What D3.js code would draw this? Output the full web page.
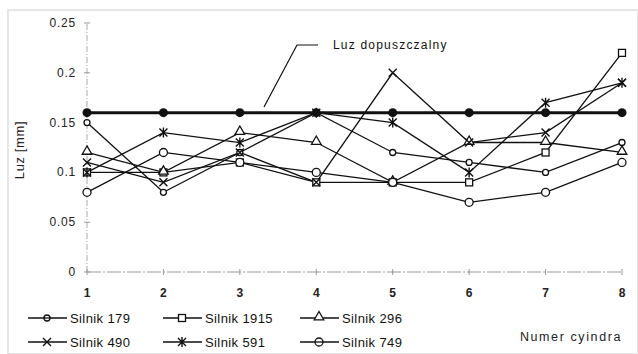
<!DOCTYPE html>
<html>
<head>
<meta charset="utf-8">
<script src="https://cdn.jsdelivr.net/npm/d3@7"></script>
<style>
  body { margin: 0; background: #fff; }
  svg { display: block; font-family: "Liberation Sans", Arial, sans-serif; }
</style>
</head>
<body>
<script>
// cylinder numbers and tick labels
var cylinders = [1, 2, 3, 4, 5, 6, 7, 8];
var yTicks = [0, 0.05, 0.1, 0.15, 0.2, 0.25];
var yTickLabels = ["0", "0.05", "0.1", "0.15", "0.2", "0.25"];

// measured clearance per engine [mm]
var silnik179  = [0.15, 0.08, 0.12, 0.16, 0.12, 0.11, 0.10, 0.13];
var silnik1915 = [0.10, 0.10, 0.11, 0.09, 0.09, 0.09, 0.12, 0.22];
var silnik296  = [0.12, 0.10, 0.14, 0.13, 0.09, 0.13, 0.13, 0.12];
var silnik490  = [0.11, 0.09, 0.12, 0.09, 0.20, 0.13, 0.14, 0.19];
var silnik591  = [0.10, 0.14, 0.13, 0.16, 0.15, 0.10, 0.17, 0.19];
var silnik749  = [0.08, 0.12, 0.11, 0.10, 0.09, 0.07, 0.08, 0.11];
var luzDopuszczalny = [0.16, 0.16, 0.16, 0.16, 0.16, 0.16, 0.16, 0.16];

var seriesNames = ["Silnik 179", "Silnik 1915", "Silnik 296", "Silnik 490", "Silnik 591", "Silnik 749"];
var seriesValues = [silnik179, silnik1915, silnik296, silnik490, silnik591, silnik749];
var seriesMarkers = ["smallcircle", "square", "triangle", "cross", "asterisk", "circle"];

var width = 638, height = 354;

var svg = d3.select("body").append("svg")
  .attr("width", width)
  .attr("height", height);

// faint scan frame
svg.append("rect")
  .attr("x", 8).attr("y", 10)
  .attr("width", width - 8).attr("height", height - 10)
  .attr("fill", "none")
  .attr("stroke", "#e6e6e6")
  .attr("stroke-width", 2);

var x = d3.scaleLinear().domain([1, 8]).range([87, 622]);
var y = d3.scaleLinear().domain([0, 0.25]).range([272, 23]);

// axes (light grey, dash-dot like the scan)
svg.append("line")
  .attr("x1", x(1)).attr("x2", x(1))
  .attr("y1", y(0)).attr("y2", y(0.25))
  .attr("stroke", "#aaa").attr("stroke-width", 1)
  .attr("stroke-dasharray", "6,2,1,2");
svg.append("line")
  .attr("x1", x(1)).attr("x2", x(8))
  .attr("y1", y(0)).attr("y2", y(0))
  .attr("stroke", "#999").attr("stroke-width", 1)
  .attr("stroke-dasharray", "14,2,2,2");

svg.selectAll(".ytick")
  .data(yTicks)
  .enter().append("line")
  .attr("x1", x(1) - 3).attr("x2", x(1) + 3)
  .attr("y1", function(d) { return y(d); })
  .attr("y2", function(d) { return y(d); })
  .attr("stroke", "#999");

svg.selectAll(".ylabel")
  .data(yTicks)
  .enter().append("text")
  .attr("x", 76)
  .attr("y", function(d) { return y(d) + 4; })
  .attr("text-anchor", "end")
  .attr("font-size", 12)
  .attr("letter-spacing", 0.8)
  .attr("fill", "#222")
  .text(function(d, i) { return yTickLabels[i]; });

svg.selectAll(".xtick")
  .data(cylinders)
  .enter().append("line")
  .attr("x1", function(d) { return x(d); })
  .attr("x2", function(d) { return x(d); })
  .attr("y1", y(0) - 3).attr("y2", y(0) + 3)
  .attr("stroke", "#999");

svg.selectAll(".xlabel")
  .data(cylinders)
  .enter().append("text")
  .attr("x", function(d) { return x(d); })
  .attr("y", 297)
  .attr("text-anchor", "middle")
  .attr("font-size", 12)
  .attr("font-weight", "bold")
  .attr("fill", "#222")
  .text(function(d) { return d; });

svg.append("text")
  .attr("transform", "translate(24," + 150 + ") rotate(-90)")
  .attr("text-anchor", "middle")
  .attr("font-size", 13)
  .attr("letter-spacing", 0.6)
  .attr("fill", "#222")
  .text("Luz [mm]");

svg.append("text")
  .attr("x", 622).attr("y", 341)
  .attr("text-anchor", "end")
  .attr("font-size", 12.5)
  .attr("letter-spacing", 1.6)
  .attr("fill", "#222")
  .text("Numer cyindra");

// marker drawing
function drawMarker(g, type, cx, cy) {
  if (type == "smallcircle") {
    g.append("circle").attr("cx", cx).attr("cy", cy).attr("r", 3)
      .attr("fill", "#fff").attr("stroke", "#111").attr("stroke-width", 1.3);
  } else if (type == "circle") {
    g.append("circle").attr("cx", cx).attr("cy", cy).attr("r", 4)
      .attr("fill", "#fff").attr("stroke", "#111").attr("stroke-width", 1.3);
  } else if (type == "square") {
    g.append("rect").attr("x", cx - 3.5).attr("y", cy - 3.5)
      .attr("width", 7).attr("height", 7)
      .attr("fill", "#fff").attr("stroke", "#111").attr("stroke-width", 1.3);
  } else if (type == "triangle") {
    g.append("path")
      .attr("d", d3.symbol().type(d3.symbolTriangle).size(40)())
      .attr("transform", "translate(" + cx + "," + (cy - 1) + ")")
      .attr("fill", "#fff").attr("stroke", "#111").attr("stroke-width", 1.3);
  } else if (type == "cross" || type == "asterisk") {
    var s = 4;
    var p = "M" + (cx - s) + "," + (cy - s) + "L" + (cx + s) + "," + (cy + s) +
            "M" + (cx - s) + "," + (cy + s) + "L" + (cx + s) + "," + (cy - s);
    if (type == "asterisk") p += "M" + cx + "," + (cy - s - 1) + "L" + cx + "," + (cy + s + 1);
    g.append("path").attr("d", p)
      .attr("fill", "none").attr("stroke", "#111").attr("stroke-width", 1.4);
  }
}

var line = d3.line()
  .x(function(d, i) { return x(cylinders[i]); })
  .y(function(d) { return y(d); });

// engine series
seriesValues.forEach(function(vals, k) {
  svg.append("path")
    .datum(vals)
    .attr("d", line)
    .attr("fill", "none")
    .attr("stroke", "#111")
    .attr("stroke-width", 1.3);
});
seriesValues.forEach(function(vals, k) {
  var g = svg.append("g");
  vals.forEach(function(v, i) {
    drawMarker(g, seriesMarkers[k], x(cylinders[i]), y(v));
  });
});

// permissible clearance line
svg.append("path")
  .datum(luzDopuszczalny)
  .attr("d", line)
  .attr("fill", "none")
  .attr("stroke", "#111")
  .attr("stroke-width", 3);
svg.selectAll(".limit")
  .data(luzDopuszczalny)
  .enter().append("circle")
  .attr("cx", function(d, i) { return x(cylinders[i]); })
  .attr("cy", function(d) { return y(d); })
  .attr("r", 4.5)
  .attr("fill", "#111");

// annotation
svg.append("path")
  .attr("d", "M318,45L297,45L264,107")
  .attr("fill", "none")
  .attr("stroke", "#111")
  .attr("stroke-width", 1.2);
svg.append("text")
  .attr("x", 333).attr("y", 49)
  .attr("font-size", 12)
  .attr("letter-spacing", 1.2)
  .attr("fill", "#111")
  .text("Luz dopuszczalny");

// legend
var legendX = [28, 163, 300];
var legendY = [318, 342];
seriesNames.forEach(function(name, k) {
  var col = k % 3, row = Math.floor(k / 3);
  var lx = legendX[col], ly = legendY[row];
  var g = svg.append("g");
  g.append("line")
    .attr("x1", lx).attr("x2", lx + 39)
    .attr("y1", ly).attr("y2", ly)
    .attr("stroke", "#111").attr("stroke-width", 1.3);
  drawMarker(g, seriesMarkers[k], lx + 19, ly);
  if (seriesMarkers[k] == "circle" || seriesMarkers[k] == "smallcircle") {
    g.append("line")
      .attr("x1", lx + 15).attr("x2", lx + 23)
      .attr("y1", ly).attr("y2", ly)
      .attr("stroke", "#111").attr("stroke-width", 1.3);
  }
  g.append("text")
    .attr("x", lx + 42).attr("y", ly + 5)
    .attr("font-size", 13)
    .attr("letter-spacing", 0.4)
    .attr("fill", "#111")
    .text(name);
});
</script>
</body>
</html>
